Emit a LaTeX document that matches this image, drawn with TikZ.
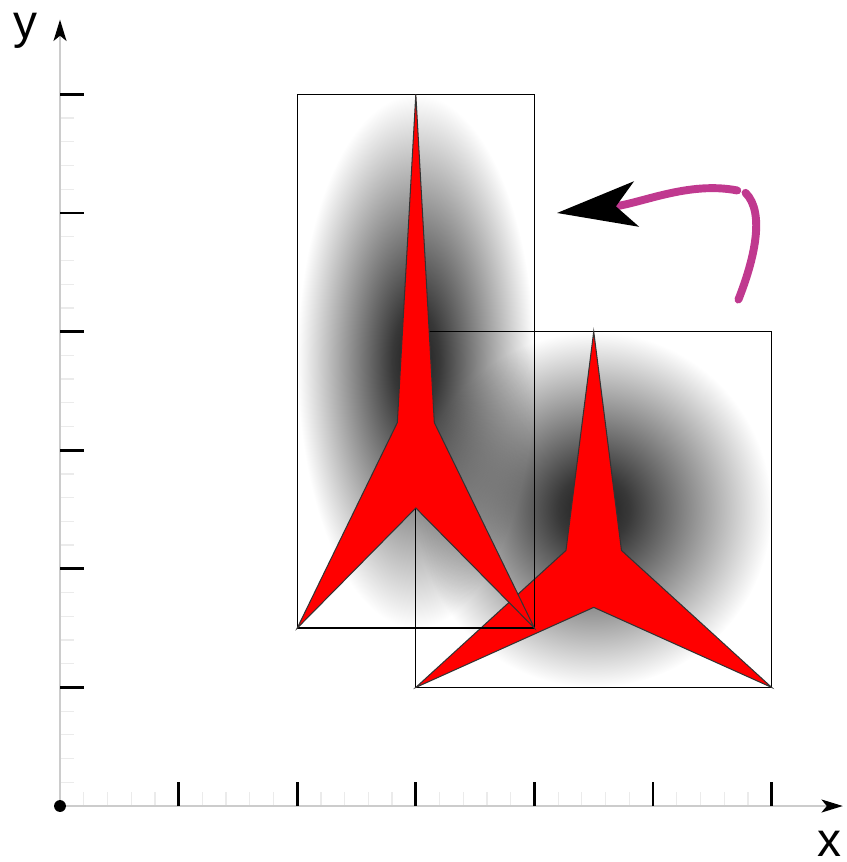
\documentclass[tikz,border=0pt]{standalone}
\usepackage{fontspec}
\setsansfont{Liberation Sans}
\usetikzlibrary{arrows.meta, calc}
\definecolor{Orchid}  {HTML}{C0398F}
\definecolor{AxisGry} {HTML}{CCCCCC}
\definecolor{MinorGry}{HTML}{EBEBEB}
\pgfdeclareradialshading{glow}{\pgfpoint{0bp}{0bp}}{%
  color(0bp)=(black!90); color(5bp)=(black!78); color(25bp)=(white); color(50bp)=(white)}

\begin{document}
\begin{tikzpicture}[
  font=\sffamily\fontsize{11.5}{14}\selectfont,
  axis/.style   = {AxisGry, line width=0.4pt,
                   -{Stealth[length=1.8mm, width=1.1mm, inset=0.45mm, color=black]}},
  major/.style  = {black, line width=0.65pt},
  minor/.style  = {MinorGry, line width=0.3pt},
  frame/.style  = {black, line width=0.3pt},
  dart/.style   = {fill=red, draw=black!80, line width=0.25pt, line join=miter},
  glowfill/.style = {shading=glow},
  swoosh/.style = {Orchid, line width=1.9pt, line cap=round},
]
\useasboundingbox (-0.506,-0.472) rectangle (6.627,6.796);

% ── Boxes, glows and darts ───────────────────────────────────────────────────
\foreach \xa/\ya/\w/\h in {3/1/3/3, 2/1.5/2/4.5}{
  \pgfmathsetmacro{\xm}{\xa+\w/2}
  \pgfmathsetmacro{\xb}{\xa+\w}
  \pgfmathsetmacro{\yb}{\ya+\h}
  \pgfmathsetmacro{\ym}{\ya+\h/2}
  \pgfmathsetmacro{\ds}{0.078*\w}
  \pgfmathsetmacro{\ys}{\ya+0.385*\h}
  \pgfmathsetmacro{\yn}{\ya+0.225*\h}
  \begin{scope}[blend mode=multiply]
    \shade[glowfill] (\xm,\ym) ellipse ({\w/2} and {\h/2});
  \end{scope}
  \draw[frame] (\xa,\ya) rectangle (\xb,\yb);
  \draw[dart] (\xm,\yb) -- (\xm+\ds,\ys) -- (\xb,\ya) -- (\xm,\yn)
    -- (\xa,\ya) -- (\xm-\ds,\ys) -- cycle;
}

% ── Curved arrow ─────────────────────────────────────────────────────────────
\coordinate (tail)  at (5.72,4.27);
\coordinate (kneeA) at (5.78,5.17);
\coordinate (kneeB) at (5.71,5.19);
\coordinate (head)  at (4.19,5.00);
\draw[swoosh] (tail) .. controls (5.85,4.60) and (5.95,5.00) .. (kneeA);
\draw[swoosh, -{Stealth[length=6.7mm, width=3.8mm, inset=1.7mm, color=black]}]
  (kneeB) .. controls (5.30,5.27) and (4.90,5.08) .. (head);

% ── Axes ─────────────────────────────────────────────────────────────────────
\coordinate (O)    at (0,0);
\coordinate (xend) at (6.60,0);
\coordinate (yend) at (0,6.63);
\foreach \u in {0,...,5}{
  \foreach \s in {0.2,0.4,0.6,0.8}{
    \draw[minor] (\u+\s,0) -- ++(0,0.12);
    \draw[minor] (0,\u+\s) -- ++(0.12,0);
  }
}
\draw[axis] (O) -- (xend);
\draw[axis] (O) -- (yend);
\foreach \u in {1,...,6}{
  \draw[major] (\u,0) -- ++(0,0.2);
  \draw[major] (0,\u) -- ++(0.2,0);
}
\fill (O) circle (0.05);
\node[inner sep=1pt] (xlab) at (6.49,-0.32) {x};
\node[inner sep=1pt] (ylab) at (-0.29,6.54) {y};

\end{tikzpicture}
\end{document}
